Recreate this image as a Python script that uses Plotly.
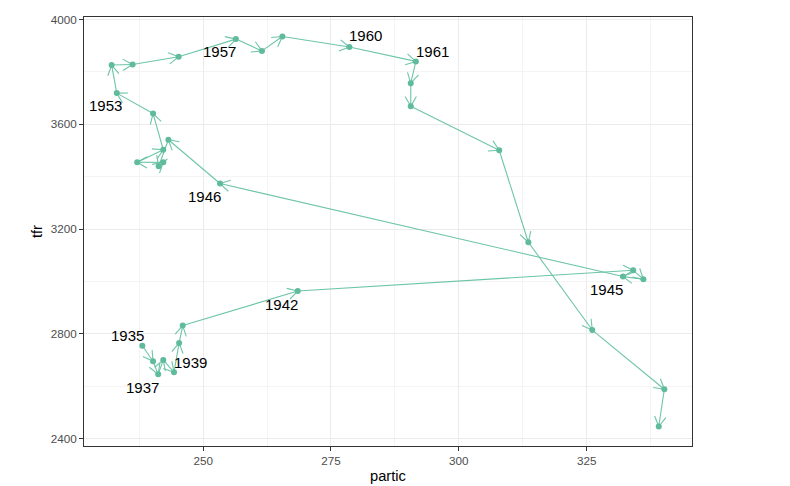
import math
import plotly.graph_objects as go

# ---- data ----
years = list(range(1935, 1969))
partic = [238.1, 240.2, 241.2, 242.2, 244.3, 245.3, 246.0, 268.5, 334.1, 336.1,
          332.1, 253.3, 243.2, 241.3, 242.2, 237.1, 242.2, 240.2, 233.1, 232.1,
          236.2, 245.2, 256.4, 261.5, 265.5, 278.6, 291.6, 290.6, 290.6, 307.9,
          313.6, 326.1, 340.2, 339.1]
tfr = [2755, 2696, 2646, 2701, 2654, 2766, 2832, 2964, 3043, 3009, 3019, 3374,
       3541, 3440, 3455, 3455, 3503, 3641, 3719, 3826, 3828, 3858, 3925, 3880,
       3935, 3895, 3840, 3757, 3669, 3501, 3150, 2815, 2589, 2447]
labelled_years = [1935, 1937, 1939, 1942, 1945, 1946, 1953, 1957, 1960, 1961]

# ---- styling / layout ----
COL = "#66C2A5"
W, H = 790, 486
ML, MR, MT, MB = 84, 98, 17, 40
pw, ph = W - ML - MR, H - MT - MB

def padded(v):
    lo, hi = min(v), max(v)
    d = (hi - lo) * 0.05
    return [lo - d, hi + d]

xr = padded(partic)
yr = padded(tfr)
sx = pw / (xr[1] - xr[0])
sy = ph / (yr[1] - yr[0])

# label offsets in pixels (repel-like placement)
label_shift = {1935: (-15, 10), 1937: (-16, -13), 1939: (16, 10), 1942: (-16, -13),
               1945: (-16, -13), 1946: (-16, -13), 1953: (-11, -12), 1957: (-16, -12),
               1960: (16, 11), 1961: (17, 10)}

# path segments and open arrowheads
seg_x, seg_y, arm_x, arm_y = [], [], [], []
L = 11.3
ang = math.radians(30)
for i in range(1, len(partic)):
    x0, y0, x1, y1 = partic[i - 1], tfr[i - 1], partic[i], tfr[i]
    seg_x += [x0, x1, None]
    seg_y += [y0, y1, None]
    dxp, dyp = (x1 - x0) * sx, (y1 - y0) * sy
    n = math.hypot(dxp, dyp)
    if n == 0:
        continue
    ux, uy = dxp / n, dyp / n
    for s in (1, -1):
        c, sn = math.cos(s * ang), math.sin(s * ang)
        rx, ry = ux * c - uy * sn, ux * sn + uy * c
        arm_x += [x1 - L * rx / sx, x1, None]
        arm_y += [y1 - L * ry / sy, y1, None]

fig = go.Figure()
fig.add_trace(go.Scatter(x=seg_x, y=seg_y, mode="lines",
                         line=dict(color=COL, width=1.1), opacity=0.95,
                         hoverinfo="skip", showlegend=False))
fig.add_trace(go.Scatter(x=arm_x, y=arm_y, mode="lines",
                         line=dict(color=COL, width=1.1), opacity=0.95,
                         hoverinfo="skip", showlegend=False))
fig.add_trace(go.Scatter(x=partic, y=tfr, mode="markers", text=[str(y) for y in years],
                         marker=dict(color="#5FBB9C", size=6), showlegend=False))

for yv in labelled_years:
    i = years.index(yv)
    dx, dy = label_shift[yv]
    fig.add_annotation(x=partic[i], y=tfr[i], text=str(yv), showarrow=False,
                       xshift=dx, yshift=dy,
                       font=dict(family="Liberation Sans, Arial", size=15, color="black"))

axis_common = dict(showline=True, mirror=True, linecolor="#333333", linewidth=1,
                   ticks="outside", ticklen=4, tickcolor="#333333", tickwidth=1,
                   showgrid=True, gridcolor="#EBEBEB", gridwidth=1, zeroline=False,
                   tickfont=dict(family="Liberation Sans, Arial", size=11.7, color="#4D4D4D"),
                   automargin=False)

fig.update_xaxes(range=xr, tick0=0, dtick=25,
                 minor=dict(showgrid=True, dtick=12.5, gridcolor="#F4F4F4", gridwidth=1),
                 title=dict(text="partic", standoff=4,
                            font=dict(family="Liberation Sans, Arial", size=14.7, color="black")),
                 **axis_common)
fig.update_yaxes(range=yr, tick0=0, dtick=400,
                 minor=dict(showgrid=True, dtick=200, gridcolor="#F4F4F4", gridwidth=1),
                 title=dict(text="tfr", standoff=4,
                            font=dict(family="Liberation Sans, Arial", size=14.7, color="black")),
                 **axis_common)

fig.update_layout(width=W, height=H, margin=dict(l=ML, r=MR, t=MT, b=MB),
                  plot_bgcolor="white", paper_bgcolor="white", showlegend=False)

fig.write_html("out.html")
